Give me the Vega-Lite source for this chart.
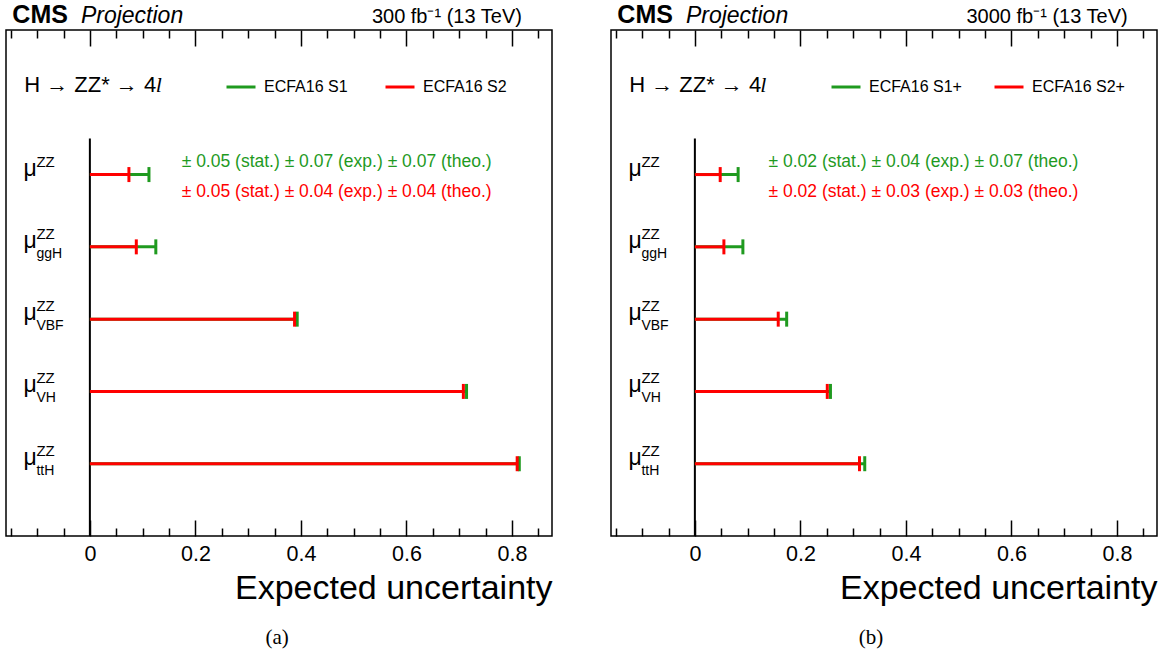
{
  "$schema": "https://vega.github.io/schema/vega-lite/v6.json",
  "autosize": {"type": "none"},
  "padding": {"left": 6, "top": 30, "right": 1168, "bottom": 631},
  "bounds": "flush",
  "spacing": 59,
  "background": "white",
  "config": {
    "font": "Liberation Sans",
    "view": {"stroke": "black", "strokeWidth": 1.5},
    "axis": {"labelFont": "Liberation Sans", "titleFont": "Liberation Sans", "labelColor": "black", "titleColor": "black", "tickColor": "black", "grid": false, "domain": false},
    "legend": {"labelFont": "Liberation Sans", "labelColor": "black"}
  },
  "resolve": {"scale": {"x": "independent", "y": "independent", "color": "independent"}},
  "datasets": {
    "a": [
      {"scen": "ECFA16 S1", "row": 5, "sub": "", "unc": 0.112},
      {"scen": "ECFA16 S1", "row": 4, "sub": "ggH", "unc": 0.125},
      {"scen": "ECFA16 S1", "row": 3, "sub": "VBF", "unc": 0.393},
      {"scen": "ECFA16 S1", "row": 2, "sub": "VH", "unc": 0.714},
      {"scen": "ECFA16 S1", "row": 1, "sub": "ttH", "unc": 0.814},
      {"scen": "ECFA16 S2", "row": 5, "sub": "", "unc": 0.074},
      {"scen": "ECFA16 S2", "row": 4, "sub": "ggH", "unc": 0.088},
      {"scen": "ECFA16 S2", "row": 3, "sub": "VBF", "unc": 0.388},
      {"scen": "ECFA16 S2", "row": 2, "sub": "VH", "unc": 0.708},
      {"scen": "ECFA16 S2", "row": 1, "sub": "ttH", "unc": 0.810}
    ],
    "b": [
      {"scen": "ECFA16 S1+", "row": 5, "sub": "", "unc": 0.082},
      {"scen": "ECFA16 S1+", "row": 4, "sub": "ggH", "unc": 0.091},
      {"scen": "ECFA16 S1+", "row": 3, "sub": "VBF", "unc": 0.174},
      {"scen": "ECFA16 S1+", "row": 2, "sub": "VH", "unc": 0.257},
      {"scen": "ECFA16 S1+", "row": 1, "sub": "ttH", "unc": 0.322},
      {"scen": "ECFA16 S2+", "row": 5, "sub": "", "unc": 0.048},
      {"scen": "ECFA16 S2+", "row": 4, "sub": "ggH", "unc": 0.055},
      {"scen": "ECFA16 S2+", "row": 3, "sub": "VBF", "unc": 0.158},
      {"scen": "ECFA16 S2+", "row": 2, "sub": "VH", "unc": 0.251},
      {"scen": "ECFA16 S2+", "row": 1, "sub": "ttH", "unc": 0.312}
    ],
    "ann_a": [
      {"scen": "ECFA16 S1", "label": "± 0.05 (stat.) ± 0.07 (exp.) ± 0.07 (theo.)"},
      {"scen": "ECFA16 S2", "label": "± 0.05 (stat.) ± 0.04 (exp.) ± 0.04 (theo.)"}
    ],
    "ann_b": [
      {"scen": "ECFA16 S1+", "label": "± 0.02 (stat.) ± 0.04 (exp.) ± 0.07 (theo.)"},
      {"scen": "ECFA16 S2+", "label": "± 0.02 (stat.) ± 0.03 (exp.) ± 0.03 (theo.)"}
    ],
    "head_a": [{"cms": "CMS", "extra": "Projection", "lumi": "300 fb⁻¹ (13 TeV)", "proc": "H → ZZ* → 4", "lep": "l", "cap": "(a)"}],
    "head_b": [{"cms": "CMS", "extra": "Projection", "lumi": "3000 fb⁻¹ (13 TeV)", "proc": "H → ZZ* → 4", "lep": "l", "cap": "(b)"}]
  },
  "hconcat": [
    {
      "width": 546,
      "height": 506,
      "layer": [
        {
          "data": {"values": [{}]},
          "mark": {"type": "rule", "stroke": "black", "strokeWidth": 2},
          "encoding": {
            "x": {"datum": 0, "type": "quantitative", "scale": {"domain": [-0.159, 0.876], "nice": false, "zero": false},
              "axis": {"orient": "bottom", "values": [0, 0.2, 0.4, 0.6, 0.8], "labels": false, "offset": -16, "tickSize": 16, "tickWidth": 1.5, "title": null}},
            "y": {"datum": 0, "type": "quantitative", "scale": {"domain": [0, 7], "nice": false, "zero": false},
              "axis": {"orient": "left", "values": [0.2,0.4,0.6,0.8,1,1.2,1.4,1.6,1.8,2,2.2,2.4,2.6,2.8,3,3.2,3.4,3.6,3.8,4,4.2,4.4,4.6,4.8,5,5.2,5.4,5.6,5.8,6,6.2,6.4,6.6,6.8], "labels": false, "offset": -3, "tickSize": 3, "tickWidth": 1, "tickColor": "#555555", "title": null}},
            "y2": {"datum": 5.5}
          }
        },
        {
          "data": {"name": "a"},
          "mark": {"type": "rule", "strokeWidth": 3},
          "encoding": {
            "x": {"field": "unc", "type": "quantitative",
              "axis": {"orient": "bottom", "values": [0, 0.2, 0.4, 0.6, 0.8], "format": "~g", "ticks": false, "labelFontSize": 21.5, "labelPadding": 7, "labelFlush": false, "labelOverlap": false,
                "title": "Expected uncertainty", "titleFontSize": 34, "titleFontWeight": "normal", "titleAnchor": "end", "titleAlign": "right", "titleBaseline": "alphabetic", "titleY": 62}},
            "x2": {"datum": 0},
            "y": {"field": "row", "type": "quantitative", "axis": null},
            "color": {"field": "scen", "type": "nominal", "scale": {"domain": ["ECFA16 S1", "ECFA16 S2"], "range": ["#1f9a1f", "#ff0000"]},
              "legend": {"orient": "none", "legendX": 219, "legendY": 41, "direction": "horizontal", "title": null, "symbolType": "stroke", "symbolSize": 841, "symbolStrokeWidth": 3, "labelFontSize": 16, "labelOffset": 7, "columnPadding": 31, "padding": 0, "symbolOpacity": 1}}
          }
        },
        {
          "data": {"name": "a"},
          "mark": {"type": "tick", "orient": "vertical", "thickness": 3, "size": 15, "opacity": 1},
          "encoding": {
            "x": {"field": "unc", "type": "quantitative",
              "axis": {"orient": "bottom", "values": [-0.15,-0.1,-0.05,0.05,0.1,0.15,0.25,0.3,0.35,0.45,0.5,0.55,0.65,0.7,0.75,0.85], "labels": false, "offset": -8, "tickSize": 8, "tickWidth": 1.5, "title": null}},
            "y": {"field": "row", "type": "quantitative", "axis": null},
            "color": {"field": "scen", "type": "nominal", "legend": null}
          }
        },
        {
          "data": {"name": "ann_a"},
          "transform": [{"filter": "datum.scen == 'ECFA16 S1'"}],
          "mark": {"type": "text", "align": "left", "baseline": "middle", "fontSize": 17.5},
          "encoding": {
            "x": {"datum": 0.174, "type": "quantitative",
              "axis": {"orient": "top", "values": [0, 0.2, 0.4, 0.6, 0.8], "labels": false, "offset": -16, "tickSize": 16, "tickWidth": 1.5, "title": null}},
            "y": {"datum": 5.18, "type": "quantitative", "axis": null},
            "text": {"field": "label"},
            "color": {"field": "scen", "type": "nominal", "legend": null}
          }
        },
        {
          "data": {"name": "ann_a"},
          "transform": [{"filter": "datum.scen == 'ECFA16 S2'"}],
          "mark": {"type": "text", "align": "left", "baseline": "middle", "fontSize": 17.5},
          "encoding": {
            "x": {"datum": 0.174, "type": "quantitative",
              "axis": {"orient": "top", "values": [-0.15,-0.1,-0.05,0.05,0.1,0.15,0.25,0.3,0.35,0.45,0.5,0.55,0.65,0.7,0.75,0.85], "labels": false, "offset": -8, "tickSize": 8, "tickWidth": 1.5, "title": null}},
            "y": {"datum": 4.76, "type": "quantitative", "axis": null},
            "text": {"field": "label"},
            "color": {"field": "scen", "type": "nominal", "legend": null}
          }
        },
        {
          "data": {"name": "a"},
          "transform": [{"filter": "datum.scen == 'ECFA16 S1'"}],
          "mark": {"type": "text", "align": "left", "baseline": "alphabetic", "fontSize": 23, "dy": 1, "color": "black", "text": "μ"},
          "encoding": {
            "x": {"datum": -0.126, "type": "quantitative", "axis": null},
            "y": {"field": "row", "type": "quantitative", "axis": null}
          }
        },
        {
          "data": {"name": "a"},
          "transform": [{"filter": "datum.scen == 'ECFA16 S1'"}],
          "mark": {"type": "text", "align": "left", "baseline": "alphabetic", "fontSize": 15, "dx": 13, "dy": -8, "color": "black", "text": "ZZ"},
          "encoding": {
            "x": {"datum": -0.126, "type": "quantitative", "axis": null},
            "y": {"field": "row", "type": "quantitative", "axis": null}
          }
        },
        {
          "data": {"name": "a"},
          "transform": [{"filter": "datum.scen == 'ECFA16 S1'"}],
          "mark": {"type": "text", "align": "left", "baseline": "alphabetic", "fontSize": 14, "dx": 13, "dy": 11, "color": "black"},
          "encoding": {
            "x": {"datum": -0.126, "type": "quantitative", "axis": null},
            "y": {"field": "row", "type": "quantitative", "axis": null},
            "text": {"field": "sub"}
          }
        },
        {
          "data": {"name": "head_a"},
          "mark": {"type": "text", "align": "left", "baseline": "middle", "fontSize": 22, "color": "black"},
          "encoding": {
            "x": {"datum": -0.1245, "type": "quantitative", "axis": null},
            "y": {"datum": 6.24, "type": "quantitative", "axis": null},
            "text": {"field": "proc"}
          }
        },
        {
          "data": {"name": "head_a"},
          "mark": {"type": "text", "align": "left", "baseline": "middle", "fontSize": 22, "fontStyle": "italic", "color": "black", "font": "Liberation Serif"},
          "encoding": {
            "x": {"datum": 0.125, "type": "quantitative", "axis": null},
            "y": {"datum": 6.24, "type": "quantitative", "axis": null},
            "text": {"field": "lep"}
          }
        },
        {
          "data": {"name": "head_a"},
          "mark": {"type": "text", "align": "left", "baseline": "alphabetic", "fontSize": 25, "fontWeight": "bold", "color": "black"},
          "encoding": {
            "x": {"datum": -0.147, "type": "quantitative", "axis": null},
            "y": {"datum": 7.093, "type": "quantitative", "axis": null},
            "text": {"field": "cms"}
          }
        },
        {
          "data": {"name": "head_a"},
          "mark": {"type": "text", "align": "left", "baseline": "alphabetic", "fontSize": 23, "fontStyle": "italic", "color": "black"},
          "encoding": {
            "x": {"datum": -0.017, "type": "quantitative", "axis": null},
            "y": {"datum": 7.093, "type": "quantitative", "axis": null},
            "text": {"field": "extra"}
          }
        },
        {
          "data": {"name": "head_a"},
          "mark": {"type": "text", "align": "right", "baseline": "alphabetic", "fontSize": 20, "color": "black"},
          "encoding": {
            "x": {"datum": 0.819, "type": "quantitative", "axis": null},
            "y": {"datum": 7.093, "type": "quantitative", "axis": null},
            "text": {"field": "lumi"}
          }
        },
        {
          "data": {"name": "head_a"},
          "mark": {"type": "text", "align": "center", "baseline": "alphabetic", "fontSize": 21, "color": "black", "font": "Liberation Serif"},
          "encoding": {
            "x": {"datum": 0.355, "type": "quantitative", "axis": null},
            "y": {"datum": -1.5, "type": "quantitative", "axis": null},
            "text": {"field": "cap"}
          }
        }
      ],
      "resolve": {"axis": {"x": "independent"}}
    },
    {
      "width": 546,
      "height": 506,
      "layer": [
        {
          "data": {"values": [{}]},
          "mark": {"type": "rule", "stroke": "black", "strokeWidth": 2},
          "encoding": {
            "x": {"datum": 0, "type": "quantitative", "scale": {"domain": [-0.159, 0.876], "nice": false, "zero": false},
              "axis": {"orient": "bottom", "values": [0, 0.2, 0.4, 0.6, 0.8], "labels": false, "offset": -16, "tickSize": 16, "tickWidth": 1.5, "title": null}},
            "y": {"datum": 0, "type": "quantitative", "scale": {"domain": [0, 7], "nice": false, "zero": false},
              "axis": {"orient": "left", "values": [0.2,0.4,0.6,0.8,1,1.2,1.4,1.6,1.8,2,2.2,2.4,2.6,2.8,3,3.2,3.4,3.6,3.8,4,4.2,4.4,4.6,4.8,5,5.2,5.4,5.6,5.8,6,6.2,6.4,6.6,6.8], "labels": false, "offset": -3, "tickSize": 3, "tickWidth": 1, "tickColor": "#555555", "title": null}},
            "y2": {"datum": 5.5}
          }
        },
        {
          "data": {"name": "b"},
          "mark": {"type": "rule", "strokeWidth": 3},
          "encoding": {
            "x": {"field": "unc", "type": "quantitative",
              "axis": {"orient": "bottom", "values": [0, 0.2, 0.4, 0.6, 0.8], "format": "~g", "ticks": false, "labelFontSize": 21.5, "labelPadding": 7, "labelFlush": false, "labelOverlap": false,
                "title": "Expected uncertainty", "titleFontSize": 34, "titleFontWeight": "normal", "titleAnchor": "end", "titleAlign": "right", "titleBaseline": "alphabetic", "titleY": 62}},
            "x2": {"datum": 0},
            "y": {"field": "row", "type": "quantitative", "axis": null},
            "color": {"field": "scen", "type": "nominal", "scale": {"domain": ["ECFA16 S1+", "ECFA16 S2+"], "range": ["#1f9a1f", "#ff0000"]},
              "legend": {"orient": "none", "legendX": 219, "legendY": 41, "direction": "horizontal", "title": null, "symbolType": "stroke", "symbolSize": 841, "symbolStrokeWidth": 3, "labelFontSize": 16, "labelOffset": 7, "columnPadding": 26, "padding": 0, "symbolOpacity": 1}}
          }
        },
        {
          "data": {"name": "b"},
          "mark": {"type": "tick", "orient": "vertical", "thickness": 3, "size": 15, "opacity": 1},
          "encoding": {
            "x": {"field": "unc", "type": "quantitative",
              "axis": {"orient": "bottom", "values": [-0.15,-0.1,-0.05,0.05,0.1,0.15,0.25,0.3,0.35,0.45,0.5,0.55,0.65,0.7,0.75,0.85], "labels": false, "offset": -8, "tickSize": 8, "tickWidth": 1.5, "title": null}},
            "y": {"field": "row", "type": "quantitative", "axis": null},
            "color": {"field": "scen", "type": "nominal", "legend": null}
          }
        },
        {
          "data": {"name": "ann_b"},
          "transform": [{"filter": "datum.scen == 'ECFA16 S1+'"}],
          "mark": {"type": "text", "align": "left", "baseline": "middle", "fontSize": 17.5},
          "encoding": {
            "x": {"datum": 0.1396, "type": "quantitative",
              "axis": {"orient": "top", "values": [0, 0.2, 0.4, 0.6, 0.8], "labels": false, "offset": -16, "tickSize": 16, "tickWidth": 1.5, "title": null}},
            "y": {"datum": 5.18, "type": "quantitative", "axis": null},
            "text": {"field": "label"},
            "color": {"field": "scen", "type": "nominal", "legend": null}
          }
        },
        {
          "data": {"name": "ann_b"},
          "transform": [{"filter": "datum.scen == 'ECFA16 S2+'"}],
          "mark": {"type": "text", "align": "left", "baseline": "middle", "fontSize": 17.5},
          "encoding": {
            "x": {"datum": 0.1396, "type": "quantitative",
              "axis": {"orient": "top", "values": [-0.15,-0.1,-0.05,0.05,0.1,0.15,0.25,0.3,0.35,0.45,0.5,0.55,0.65,0.7,0.75,0.85], "labels": false, "offset": -8, "tickSize": 8, "tickWidth": 1.5, "title": null}},
            "y": {"datum": 4.76, "type": "quantitative", "axis": null},
            "text": {"field": "label"},
            "color": {"field": "scen", "type": "nominal", "legend": null}
          }
        },
        {
          "data": {"name": "b"},
          "transform": [{"filter": "datum.scen == 'ECFA16 S1+'"}],
          "mark": {"type": "text", "align": "left", "baseline": "alphabetic", "fontSize": 23, "dy": 1, "color": "black", "text": "μ"},
          "encoding": {
            "x": {"datum": -0.126, "type": "quantitative", "axis": null},
            "y": {"field": "row", "type": "quantitative", "axis": null}
          }
        },
        {
          "data": {"name": "b"},
          "transform": [{"filter": "datum.scen == 'ECFA16 S1+'"}],
          "mark": {"type": "text", "align": "left", "baseline": "alphabetic", "fontSize": 15, "dx": 13, "dy": -8, "color": "black", "text": "ZZ"},
          "encoding": {
            "x": {"datum": -0.126, "type": "quantitative", "axis": null},
            "y": {"field": "row", "type": "quantitative", "axis": null}
          }
        },
        {
          "data": {"name": "b"},
          "transform": [{"filter": "datum.scen == 'ECFA16 S1+'"}],
          "mark": {"type": "text", "align": "left", "baseline": "alphabetic", "fontSize": 14, "dx": 13, "dy": 11, "color": "black"},
          "encoding": {
            "x": {"datum": -0.126, "type": "quantitative", "axis": null},
            "y": {"field": "row", "type": "quantitative", "axis": null},
            "text": {"field": "sub"}
          }
        },
        {
          "data": {"name": "head_b"},
          "mark": {"type": "text", "align": "left", "baseline": "middle", "fontSize": 22, "color": "black"},
          "encoding": {
            "x": {"datum": -0.1245, "type": "quantitative", "axis": null},
            "y": {"datum": 6.24, "type": "quantitative", "axis": null},
            "text": {"field": "proc"}
          }
        },
        {
          "data": {"name": "head_b"},
          "mark": {"type": "text", "align": "left", "baseline": "middle", "fontSize": 22, "fontStyle": "italic", "color": "black", "font": "Liberation Serif"},
          "encoding": {
            "x": {"datum": 0.124, "type": "quantitative", "axis": null},
            "y": {"datum": 6.24, "type": "quantitative", "axis": null},
            "text": {"field": "lep"}
          }
        },
        {
          "data": {"name": "head_b"},
          "mark": {"type": "text", "align": "left", "baseline": "alphabetic", "fontSize": 25, "fontWeight": "bold", "color": "black"},
          "encoding": {
            "x": {"datum": -0.147, "type": "quantitative", "axis": null},
            "y": {"datum": 7.093, "type": "quantitative", "axis": null},
            "text": {"field": "cms"}
          }
        },
        {
          "data": {"name": "head_b"},
          "mark": {"type": "text", "align": "left", "baseline": "alphabetic", "fontSize": 23, "fontStyle": "italic", "color": "black"},
          "encoding": {
            "x": {"datum": -0.017, "type": "quantitative", "axis": null},
            "y": {"datum": 7.093, "type": "quantitative", "axis": null},
            "text": {"field": "extra"}
          }
        },
        {
          "data": {"name": "head_b"},
          "mark": {"type": "text", "align": "right", "baseline": "alphabetic", "fontSize": 20, "color": "black"},
          "encoding": {
            "x": {"datum": 0.8204, "type": "quantitative", "axis": null},
            "y": {"datum": 7.093, "type": "quantitative", "axis": null},
            "text": {"field": "lumi"}
          }
        },
        {
          "data": {"name": "head_b"},
          "mark": {"type": "text", "align": "center", "baseline": "alphabetic", "fontSize": 21, "color": "black", "font": "Liberation Serif"},
          "encoding": {
            "x": {"datum": 0.334, "type": "quantitative", "axis": null},
            "y": {"datum": -1.5, "type": "quantitative", "axis": null},
            "text": {"field": "cap"}
          }
        }
      ],
      "resolve": {"axis": {"x": "independent"}}
    }
  ]
}
